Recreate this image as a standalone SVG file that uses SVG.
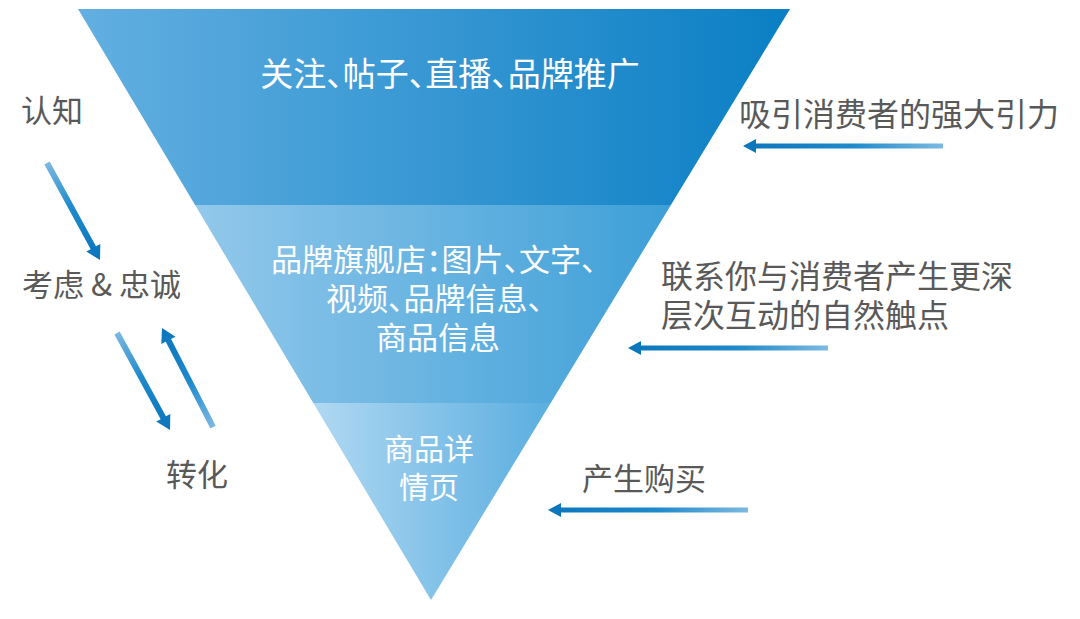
<svg xmlns="http://www.w3.org/2000/svg" width="1080" height="619" viewBox="0 0 1080 619">
<defs>
<linearGradient id="gTop" x1="0" y1="0" x2="1" y2="0">
<stop offset="0" stop-color="#63afe1"/><stop offset="1" stop-color="#0a7fc4"/>
</linearGradient>
<linearGradient id="gMid" x1="0" y1="0" x2="1" y2="0">
<stop offset="0" stop-color="#92c8eb"/><stop offset="1" stop-color="#3d9fd7"/>
</linearGradient>
<linearGradient id="gBot" x1="0" y1="0" x2="1" y2="0">
<stop offset="0" stop-color="#b0d8f2"/><stop offset="1" stop-color="#5aaee0"/>
</linearGradient>
<linearGradient id="gArrow" x1="0" y1="0" x2="1" y2="0">
<stop offset="0" stop-color="#0a75bb"/><stop offset="0.55" stop-color="#1e8acb"/><stop offset="1" stop-color="#7cb9e2"/>
</linearGradient>
<path id="arrH" d="M0,0 L13,-7 L13,-2.5 L200,-2.5 L200,2.5 L13,2.5 L13,7 Z"/>
</defs>
<style>
.w{font-family:"Noto Sans CJK SC","Noto Sans",sans-serif;fill:#ffffff;font-feature-settings:"halt";}
.g{font-family:"Noto Sans CJK SC","Noto Sans",sans-serif;fill:#595959;}
.arr{fill:url(#gArrow);}
</style>
<rect width="1080" height="619" fill="#ffffff"/>
<g id="funnel">
<g id="band-top">
<polygon points="78,9 790,9 670.9,205 195.1,205" fill="url(#gTop)"/>
<text class="w" x="450" y="86" font-size="33" text-anchor="middle">关注、帖子、直播、品牌推广</text>
</g>
<g id="band-middle">
<polygon points="195.1,205 670.9,205 550.7,403 313.3,403" fill="url(#gMid)"/>
<text class="w" font-size="31"><tspan x="271" y="271">品牌旗舰店：图片、文字、</tspan><tspan x="326" y="310">视频、品牌信息、</tspan><tspan x="376" y="349">商品信息</tspan></text>
</g>
<g id="band-bottom">
<polygon points="313.3,403 550.7,403 431,600" fill="url(#gBot)"/>
<text class="w" font-size="30"><tspan x="384" y="460">商品详</tspan><tspan x="399" y="498">情页</tspan></text>
</g>
</g>
<g id="label-awareness"><text class="g" x="21" y="122" font-size="31">认知</text></g>
<g id="label-consider"><text class="g" x="22" y="296" font-size="31">考虑 &amp; 忠诚</text></g>
<g id="label-convert"><text class="g" x="166" y="486" font-size="31">转化</text></g>
<g id="label-attract"><text class="g" x="739" y="126" font-size="32">吸引消费者的强大引力</text></g>
<g id="label-touch"><text class="g" font-size="32"><tspan x="661" y="288">联系你与消费者产生更深</tspan><tspan x="661" y="327">层次互动的自然触点</tspan></text></g>
<g id="label-buy"><text class="g" x="582" y="490" font-size="31">产生购买</text></g>
<g id="connectors">
<use href="#arrH" class="arr" transform="translate(743,146)"/>
<use href="#arrH" class="arr" transform="translate(628,348)"/>
<use href="#arrH" class="arr" transform="translate(548,510)"/>
<path class="arr" d="M0,0 L14,-8 L14,-3 L110.5,-3 L110.5,3 L14,3 L14,8 Z" transform="translate(100,260) rotate(-118.65)"/>
<path class="arr" d="M0,0 L14,-8 L14,-3 L110.5,-3 L110.5,3 L14,3 L14,8 Z" transform="translate(170,430) rotate(-118.65)"/>
<path class="arr" d="M0,0 L14,-8 L14,-3 L111.4,-3 L111.4,3 L14,3 L14,8 Z" transform="translate(162,328) rotate(62.74)"/>
</g>
</svg>
